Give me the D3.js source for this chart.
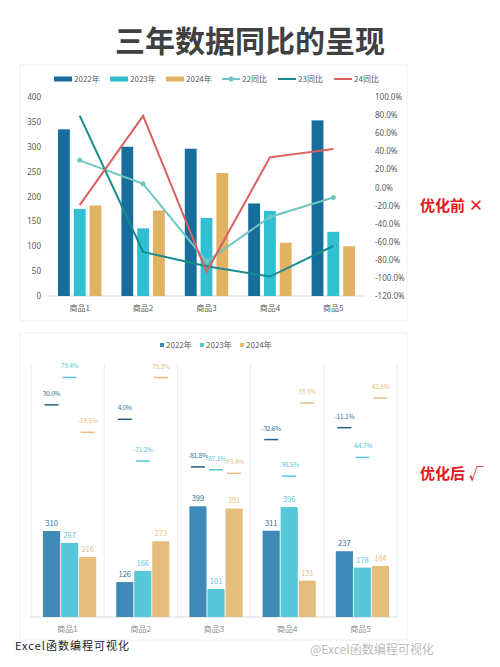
<!DOCTYPE html>
<html><head><meta charset="utf-8">
<script src="https://cdn.jsdelivr.net/npm/d3@7"></script>
<style>body{margin:0;background:#fff;font-family:"Noto Sans CJK SC","Noto Sans",sans-serif}</style>
</head><body>
<svg id="c" width="500" height="667"></svg>
<script>
// categories and series
const cats = ["商品1", "商品2", "商品3", "商品4", "商品5"]
const years = ["2022年", "2023年", "2024年"]
const topY22 = [335, 300, 296, 186, 353]
const topY23 = [175, 136, 157, 171, 129]
const topY24 = [182, 172, 247, 107, 100]
const yoy22 = [30.0, 4.0, -81.8, -32.6, -11.1]
const yoy23 = [79.4, -71.2, -87.1, -98.5, -64.7]
const yoy24 = [-19.5, 79.2, -93.4, 33.3, 42.5]
const botY22 = [310, 126, 399, 311, 237]
const botY23 = [267, 166, 101, 396, 178]
const botY24 = [216, 273, 391, 131, 184]
const lineNames = ["22同比", "23同比", "24同比"]
const leftTicks = [0, 50, 100, 150, 200, 250, 300, 350, 400]
const rightTicks = [100, 80, 60, 40, 20, 0, -20, -40, -60, -80, -100, -120]

const svg = d3.select("#c")
const barColTop = ["#176e9c", "#31bfd4", "#e1b262"]
const lineCol = ["#70c6c0", "#158b8d", "#d9605e"]
const barColBot = ["#3f8ab8", "#57c7da", "#e5be7e"]
const gray = "#595959"

svg.append("text").attr("x", 250).attr("y", 52).attr("text-anchor", "middle")
    .attr("font-size", 30).attr("font-weight", "bold").attr("fill", "#404040").text("三年数据同比的呈现")

//// top chart
svg.append("rect").attr("x", 20).attr("y", 65).attr("width", 387).attr("height", 256)
    .attr("fill", "#fff").attr("stroke", "#eee")
const x0 = d3.scaleBand().domain(cats).range([48, 365])
const x1 = d3.scaleBand().domain(years).range([10, x0.bandwidth() - 10]).paddingInner(0.25)
const yL = d3.scaleLinear().domain([0, 400]).range([296, 97])
const yR = d3.scaleLinear().domain([-120, 100]).range([296, 97])
const topSeries = [topY22, topY23, topY24]

const gL = svg.append("g").attr("transform", "translate(44,0)")
    .call(d3.axisLeft(yL).tickValues(leftTicks).tickSize(0))
gL.select(".domain").remove()
gL.selectAll("text").attr("fill", gray).attr("font-size", 8).attr("font-family", "Noto Sans")
const gR = svg.append("g").attr("transform", "translate(372,0)")
    .call(d3.axisRight(yR).tickValues(rightTicks).tickSize(0).tickFormat(d => d.toFixed(1) + "%"))
gR.select(".domain").remove()
gR.selectAll("text").attr("fill", gray).attr("font-size", 8).attr("font-family", "Noto Sans")
svg.append("line").attr("x1", 48).attr("x2", 365).attr("y1", 296).attr("y2", 296).attr("stroke", "#d9d9d9")
cats.forEach(c => svg.append("text").attr("x", x0(c) + x0.bandwidth() / 2).attr("y", 311)
    .attr("text-anchor", "middle").attr("font-size", 8).attr("fill", gray).text(c))

topSeries.forEach((s, i) => {
    svg.append("g").selectAll("rect").data(s).join("rect")
        .attr("x", (d, j) => x0(cats[j]) + x1(years[i]))
        .attr("width", x1.bandwidth())
        .attr("y", d => yL(d)).attr("height", d => 296 - yL(d))
        .attr("fill", barColTop[i])
})
const lineSeries = [yoy22, yoy23, yoy24]
const line = d3.line().x((d, j) => x0(cats[j]) + x0.bandwidth() / 2).y(d => yR(d))
lineSeries.forEach((s, i) => {
    svg.append("path").attr("d", line(s)).attr("fill", "none")
        .attr("stroke", lineCol[i]).attr("stroke-width", 2)
})
svg.append("g").selectAll("circle").data(yoy22).join("circle")
    .attr("cx", (d, j) => x0(cats[j]) + x0.bandwidth() / 2).attr("cy", d => yR(d))
    .attr("r", 2.5).attr("fill", lineCol[0])

// top legend
const legItems = years.map((y, i) => ({ name: y, col: barColTop[i], bar: true }))
    .concat(lineNames.map((n, i) => ({ name: n, col: lineCol[i], bar: false, dot: i === 0 })))
legItems.forEach((it, i) => {
    const lx = 54 + i * 56, ly = 79
    if (it.bar) svg.append("rect").attr("x", lx).attr("y", ly - 2.5).attr("width", 18).attr("height", 5).attr("fill", it.col)
    else {
        svg.append("line").attr("x1", lx).attr("x2", lx + 18).attr("y1", ly).attr("y2", ly).attr("stroke", it.col).attr("stroke-width", 2)
        if (it.dot) svg.append("circle").attr("cx", lx + 9).attr("cy", ly).attr("r", 2.5).attr("fill", it.col)
    }
    svg.append("text").attr("x", lx + 20).attr("y", ly + 3).attr("font-size", 8).attr("fill", gray).text(it.name)
})

svg.append("text").attr("x", 420).attr("y", 211).attr("font-size", 15).attr("font-weight", "bold")
    .attr("fill", "#e8141c").text("优化前 ×")

//// bottom chart
svg.append("rect").attr("x", 20).attr("y", 333).attr("width", 387).attr("height", 307)
    .attr("fill", "#fff").attr("stroke", "#f0f0f0")
const bx0 = d3.scaleBand().domain(cats).range([31, 397])
const bx1 = d3.scaleBand().domain(years).range([12, bx0.bandwidth() - 8]).paddingInner(0.05)
const by = d3.scaleLinear().domain([0, 400]).range([617, 506])
const py = d3.scaleLinear().domain([-100, 100]).range([477, 366])
const botSeries = [botY22, botY23, botY24]

d3.range(cats.length + 1).forEach(k => {
    const xx = 31 + k * bx0.bandwidth()
    svg.append("line").attr("x1", xx).attr("x2", xx).attr("y1", 364).attr("y2", 617).attr("stroke", "#ececec")
})
svg.append("line").attr("x1", 31).attr("x2", 397).attr("y1", 617).attr("y2", 617).attr("stroke", "#d9d9d9")
cats.forEach(c => svg.append("text").attr("x", bx0(c) + bx0.bandwidth() / 2).attr("y", 632)
    .attr("text-anchor", "middle").attr("font-size", 8).attr("fill", "#8c8c8c").text(c))

botSeries.forEach((s, i) => {
    const g = svg.append("g")
    g.selectAll("rect").data(s).join("rect")
        .attr("x", (d, j) => bx0(cats[j]) + bx1(years[i]))
        .attr("width", bx1.bandwidth())
        .attr("y", d => by(d)).attr("height", d => 617 - by(d))
        .attr("fill", barColBot[i])
    g.selectAll("text").data(s).join("text")
        .attr("x", (d, j) => bx0(cats[j]) + bx1(years[i]) + bx1.bandwidth() / 2)
        .attr("y", d => by(d) - 5).attr("text-anchor", "middle")
        .attr("font-size", 7.5).attr("fill", i === 0 ? "#2f6f9a" : barColBot[i]).text(d => d)
})
lineSeries.forEach((s, i) => {
    const g = svg.append("g")
    const cx = j => bx0(cats[j]) + bx1(years[i]) + bx1.bandwidth() / 2
    g.selectAll("line").data(s).join("line")
        .attr("x1", (d, j) => cx(j) - 7).attr("x2", (d, j) => cx(j) + 7)
        .attr("y1", d => py(d)).attr("y2", d => py(d))
        .attr("stroke", i === 0 ? "#1f5f8a" : barColBot[i]).attr("stroke-width", 1.5)
    g.selectAll("text").data(s).join("text")
        .attr("x", (d, j) => cx(j)).attr("y", d => py(d) - 9).attr("text-anchor", "middle")
        .attr("font-size", 6.5).attr("letter-spacing", -0.2).attr("fill", i === 0 ? "#2f6f9a" : barColBot[i])
        .text(d => d.toFixed(1) + "%")
})
years.forEach((y, i) => {
    const lx = 160 + i * 40
    svg.append("rect").attr("x", lx).attr("y", 343).attr("width", 4).attr("height", 4).attr("fill", barColBot[i])
    svg.append("text").attr("x", lx + 6).attr("y", 348).attr("font-size", 8).attr("fill", gray).text(y)
})
svg.append("text").attr("x", 420).attr("y", 479).attr("font-size", 15).attr("font-weight", "bold")
    .attr("fill", "#e8141c").text("优化后 √")

svg.append("text").attr("x", 15).attr("y", 650).attr("font-size", 11).attr("fill", "#222")
    .attr("letter-spacing", 1).text("Excel函数编程可视化")
svg.append("text").attr("x", 310).attr("y", 654).attr("font-size", 12).attr("fill", "#bbb")
    .text("@Excel函数编程可视化")
</script>
</body></html>
